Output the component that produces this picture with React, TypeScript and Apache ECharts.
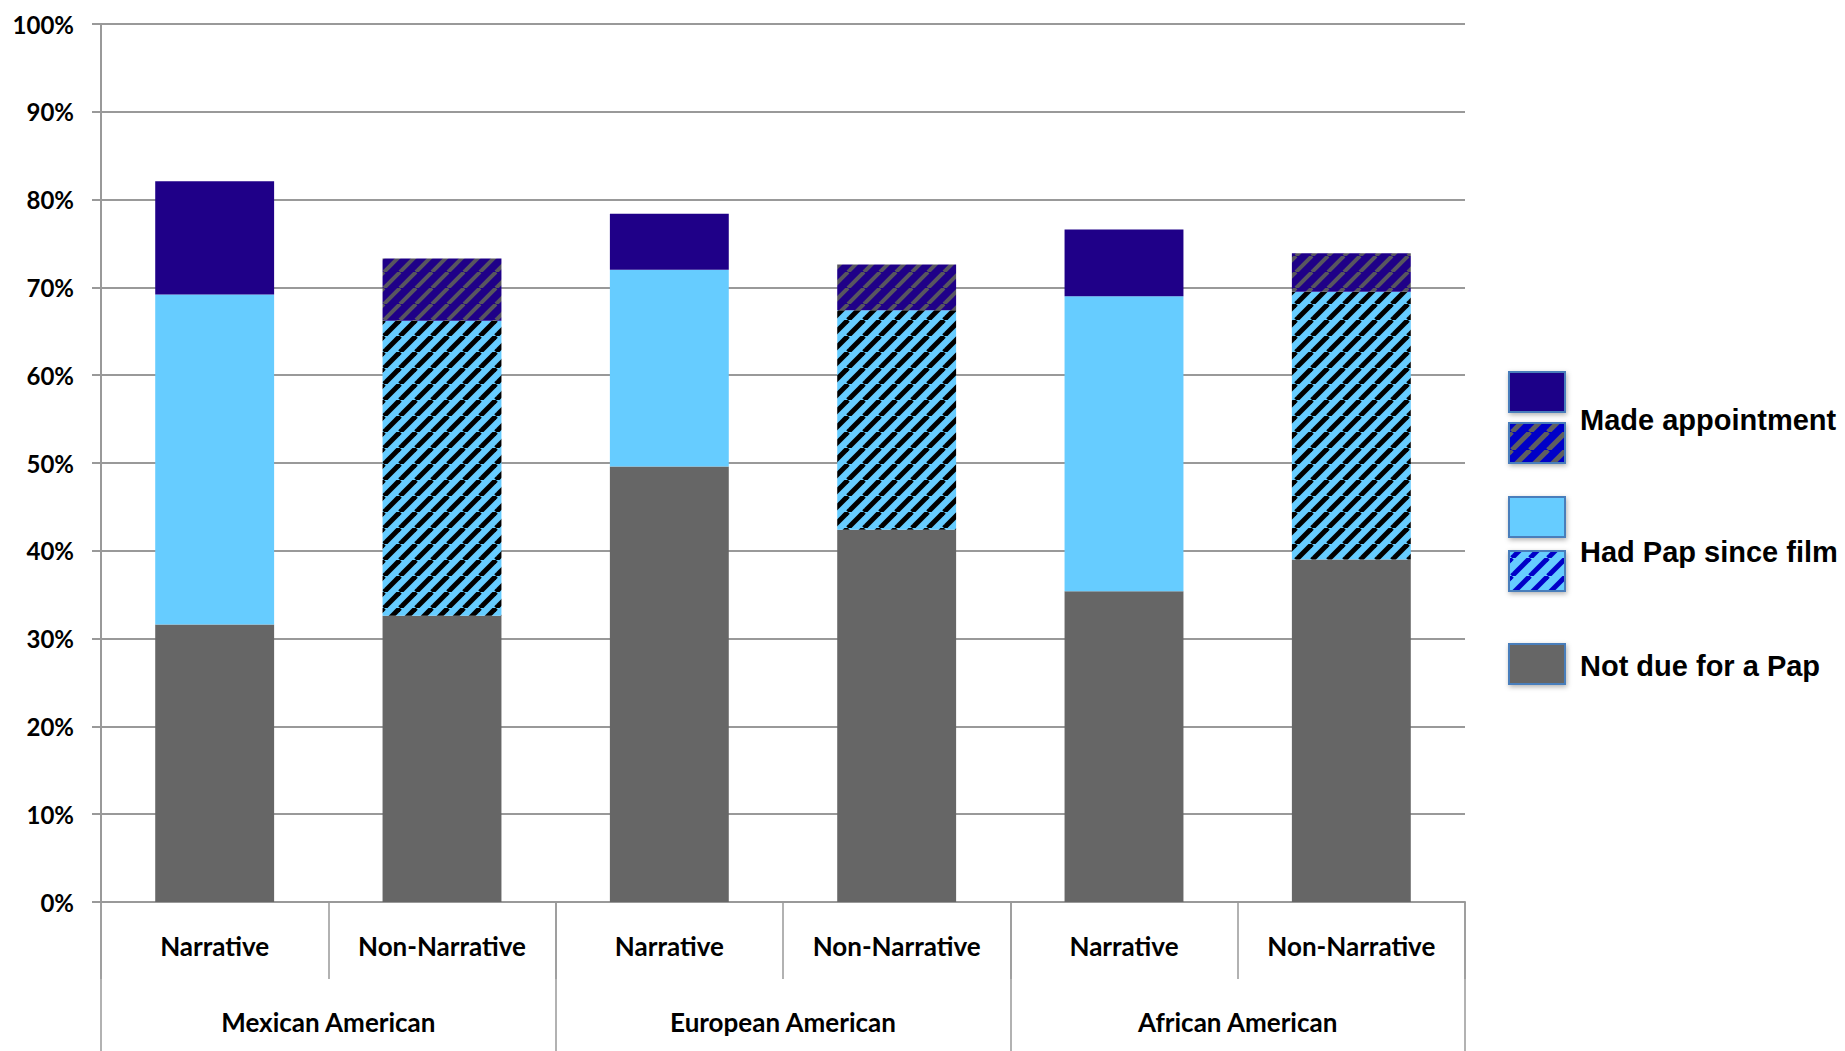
import { useEffect, useRef } from "react";
import * as echarts from "echarts";

// Film type within each ethnic group (first axis level)
const subCategories = [
  "Narrative",
  "Non-Narrative",
  "Narrative",
  "Non-Narrative",
  "Narrative",
  "Non-Narrative",
];
// Ethnic groups (second axis level)
const groups = ["Mexican American", "European American", "African American"];

// Stacked shares in percent, bottom to top
const notDue = [31.6, 32.6, 49.6, 42.4, 35.4, 39.0];
const hadPap = [37.6, 33.6, 22.4, 25.0, 33.6, 30.5];
const madeAppt = [12.9, 7.1, 6.4, 5.2, 7.6, 4.4];

const legendLabels = ["Made appointment", "Had Pap since film", "Not due for a Pap"];

const GREY = "#666666";
const LIGHT = "#66CCFF";
const NAVY = "#1F0088";
const AXIS = "#999999";
const LABEL_FONT = "Lato";

// Repeating tile with "/" diagonal stripes
function stripes(bg: string, fg: string, size: number, width: number) {
  const c = document.createElement("canvas");
  c.width = size;
  c.height = size;
  const ctx = c.getContext("2d")!;
  ctx.fillStyle = bg;
  ctx.fillRect(0, 0, size, size);
  ctx.strokeStyle = fg;
  ctx.lineWidth = width;
  for (let k = -1; k <= 1; k++) {
    ctx.beginPath();
    ctx.moveTo(k * size, size);
    ctx.lineTo(k * size + size, 0);
    ctx.stroke();
  }
  return {
    image: c.toDataURL(),
    repeat: "repeat",
    imageWidth: size,
    imageHeight: size,
  } as any;
}

export default function App() {
  const ref = useRef<HTMLDivElement>(null);

  useEffect(() => {
    if (!ref.current) return;
    const chart = echarts.init(ref.current, undefined, { renderer: "svg" });

    const lightHatch = stripes(LIGHT, "#000000", 16, 5);
    const navyHatch = stripes(NAVY, "#58565f", 16, 4);
    const legendNavyHatch = stripes("#0000C8", "#5f5f5f", 18, 5);
    const legendLightHatch = stripes(LIGHT, "#0000C8", 18, 5);

    const hatched = subCategories.map((c) => c === "Non-Narrative");
    const makeData = (vals: number[], solid: string, hatch: any) =>
      vals.map((v, i) => ({
        value: v,
        itemStyle: { color: hatched[i] ? hatch : solid },
      }));

    const labelStyle = {
      color: "#000",
      fontFamily: LABEL_FONT,
      fontWeight: "bold" as const,
      fontSize: 26,
    };

    const swX = 1509;
    const swW = 56;
    const swH = 40;
    const swatch = (y: number, fill: any) => ({
      type: "rect",
      shape: { x: swX, y, width: swW, height: swH },
      style: {
        fill,
        stroke: "#4a7ebb",
        lineWidth: 2,
        shadowBlur: 5,
        shadowOffsetX: 1,
        shadowOffsetY: 2,
        shadowColor: "rgba(0,0,0,0.3)",
      },
    });
    const legendText = (y: number, text: string) => ({
      type: "text",
      x: 1580,
      y,
      style: {
        text,
        fill: "#000",
        font: 'bold 29px "Liberation Sans", Arial, sans-serif',
        textVerticalAlign: "middle",
        textAlign: "left",
      },
    });

    const barCommon = {
      type: "bar" as const,
      stack: "total",
      barCategoryGap: "47.7%",
      xAxisIndex: 0,
      yAxisIndex: 0,
    };

    chart.setOption({
      animation: false,
      backgroundColor: "#ffffff",
      grid: { left: 101, right: 380, top: 24, bottom: 149, containLabel: false },
      xAxis: [
        {
          type: "category",
          data: subCategories,
          position: "bottom",
          axisLine: { show: true, lineStyle: { color: AXIS, width: 2 } },
          axisTick: {
            show: true,
            interval: 0,
            length: 77,
            lineStyle: { color: AXIS, width: 1.5 },
          },
          axisLabel: { interval: 0, margin: 31, ...labelStyle },
          splitLine: { show: false },
        },
        {
          type: "category",
          data: groups,
          position: "bottom",
          offset: 0,
          axisLine: { show: false },
          axisTick: {
            show: true,
            interval: 0,
            length: 149,
            lineStyle: { color: AXIS, width: 1.5 },
          },
          axisLabel: { interval: 0, margin: 107, ...labelStyle },
          splitLine: { show: false },
        },
      ],
      yAxis: {
        type: "value",
        min: 0,
        max: 100,
        interval: 10,
        axisLine: { show: true, lineStyle: { color: AXIS, width: 2 } },
        axisTick: { show: true, length: 9, lineStyle: { color: AXIS, width: 2 } },
        splitLine: { show: true, lineStyle: { color: AXIS, width: 2 } },
        axisLabel: {
          formatter: "{value}%",
          margin: 27,
          color: "#000",
          fontFamily: LABEL_FONT,
          fontWeight: "bold",
          fontSize: 24,
        },
      },
      series: [
        { ...barCommon, name: legendLabels[2], data: makeData(notDue, GREY, GREY) },
        { ...barCommon, name: legendLabels[1], data: makeData(hadPap, LIGHT, lightHatch) },
        { ...barCommon, name: legendLabels[0], data: makeData(madeAppt, NAVY, navyHatch) },
      ],
      graphic: [
        swatch(372, NAVY),
        swatch(423, legendNavyHatch),
        legendText(420, legendLabels[0]),
        swatch(497, LIGHT),
        swatch(551, legendLightHatch),
        legendText(552, legendLabels[1]),
        swatch(644, GREY),
        legendText(666, legendLabels[2]),
      ],
    });

    return () => chart.dispose();
  }, []);

  return (
    <div
      ref={ref}
      style={{ position: "absolute", left: 0, top: 0, width: 1845, height: 1051 }}
    />
  );
}
